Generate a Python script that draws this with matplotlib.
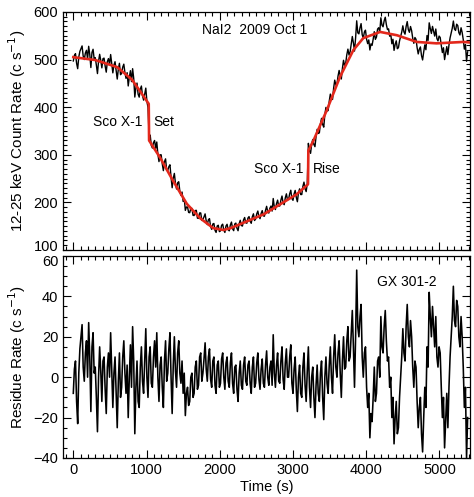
import numpy as np
import matplotlib
matplotlib.use('Agg')
import matplotlib.pyplot as plt
import matplotlib.transforms as mtransforms
from matplotlib.ticker import MultipleLocator

plt.rcParams['font.family'] = ['Liberation Sans', 'DejaVu Sans']

# background model (red curve), knots in seconds / counts per second
model_t = [0, 300, 600, 800, 950, 1030, 1035, 1185, 1360, 1550, 1730, 1910, 2050,
           2150, 2600, 3050, 3205, 3210, 3280, 3460, 3640, 3825, 3960, 4190, 4420,
           4690, 4960, 5330, 5400]
model_rate = [505, 499, 484, 458, 425, 407, 330, 294, 246, 197, 167, 146, 142,
              146, 175, 217, 238, 309, 330, 393, 463, 520, 545, 558, 551,
              537, 534, 537, 536]

# residuals sampled every 15 s from t = 0 (one row = 300 s)
step = 15
residue = [
    -8, 4, 8, -12, -23, 2, 14, 20, 26, 5, -2, 12, 18, 0, 27, 10, -17, 15, 22, 2,
    5, -10, -27, 0, 15, 3, -12, 8, 10, -6, -18, 5, 12, 0, 22, 4, -15, 2, 10, -8,
    -25, -2, 12, -10, -5, 10, 18, 2, -8, 6, -20, 0, 16, -5, 25, 8, -28, -5, 8, -12,
    -15, 5, 15, -2, -8, 8, 24, 0, -10, 10, 15, -3, -5, 10, 18, 5, 22, 0, -12, 6,
    10, -5, -15, 8, 18, -2, 2, 14, 22, 0, -18, 6, 20, 3, -5, 12, 18, 2, -3, 8,
    -8, 2, -19, -8, -5, -14, -12, 0, 2, -10, -8, 5, 8, -6, -4, 10, 12, -2, 2, 9,
    17, 4, -2, 10, 14, -1, -5, 8, 10, -4, -8, 6, 8, -5, -3, 9, 12, 0, -6, 7,
    10, -2, -5, 7, 12, -3, -8, 5, 6, -6, -12, 2, 8, -4, -6, 6, 10, -2, -4, 6,
    8, -3, -8, 5, 10, -5, -3, 7, 12, -1, -6, 4, 9, -3, -5, 6, 13, 0, -4, 5,
    8, -4, 21, 2, -5, 6, 12, -2, -3, 8, 15, -1, -6, 7, 14, 0, 0, 10, 16, -3,
    -8, 4, 10, -6, -17, 0, 6, -8, -10, 5, 12, -4, -12, 3, 15, -5, -15, 0, 5, -10,
    -20, -4, 6, -8, -12, 2, 8, -10, -21, 0, 10, -3, -8, 6, 15, 0, -8, 10, 21, 5,
    0, 12, 18, 2, -10, 8, 20, 4, 5, 18, 25, 8, 10, 22, 33, 15, -5, 20, 53, 25,
    20, 30, 36, 10, 0, 12, 15, -5, -15, -8, -30, -18, -22, -10, 5, -12, -8, 8, 10, 0,
    30, 15, 12, 25, 33, 18, 8, 10, -5, 0, -20, -10, -33, -20, -12, -28, -25, -10, 0, 10,
    24, 12, 8, 25, 36, 20, 15, 28, 20, 5, -5, 8, 5, -12, -25, -15, -10, -28, -37, -20,
    -5, -15, 15, 5, 42, 30, 20, 35, 25, 15, 30, 10, 5, 15, 12, -5, -20, -10, -35, -22,
    -8, -25, -5, 10, 20, 30, 45, 28, 25, 38, 35, 20, 15, 30, 20, 5, -15, -5, -40, -20,
]

t = np.arange(len(residue)) * step
resid = np.array(residue, dtype=float)
# observed rate = background model + residual
rate = np.interp(t, model_t, model_rate) + resid

fig = plt.figure(figsize=(4.74, 4.97), dpi=100)
ax1 = fig.add_axes([0.133, 0.497, 0.859, 0.479])
ax2 = fig.add_axes([0.133, 0.0785, 0.859, 0.4065])

ax1.plot(t, rate, color='black', lw=1.0)
ax1.plot(model_t, model_rate, color='#e3281c', lw=1.9)
ax2.plot(t, resid, color='black', lw=1.15)

for ax in (ax1, ax2):
    ax.set_xlim(-140, 5420)
    ax.xaxis.set_major_locator(MultipleLocator(1000))
    ax.xaxis.set_minor_locator(MultipleLocator(100))
    ax.tick_params(which='both', direction='in', top=True, right=True,
                   labelsize=10.5, width=0.8)
    ax.tick_params(which='major', length=6)
    ax.tick_params(which='minor', length=3)
    for s in ax.spines.values():
        s.set_linewidth(0.9)

ax1.set_ylim(100, 600)
ax1.set_yticks([100, 200, 300, 400, 500, 600])
ax1.yaxis.set_minor_locator(MultipleLocator(10))
ax1.tick_params(labelbottom=False)
ax1.set_ylabel('12-25 keV Count Rate (c s$^{-1}$)', fontsize=11, labelpad=4)

ax2.set_ylim(-40, 60)
ax2.set_yticks([-40, -20, 0, 20, 40, 60])
ax2.yaxis.set_minor_locator(MultipleLocator(5))
ax2.set_ylabel('Residue Rate (c s$^{-1}$)', fontsize=11, labelpad=4)
ax2.set_xlabel('Time (s)', fontsize=10.5, labelpad=2)

# nudge the "100" and "60" labels apart where the panels meet
up = mtransforms.ScaledTranslation(0, 3 / 72, fig.dpi_scale_trans)
down = mtransforms.ScaledTranslation(0, -3 / 72, fig.dpi_scale_trans)
lab100 = ax1.get_yticklabels()[0]
lab100.set_transform(lab100.get_transform() + up)
lab60 = ax2.get_yticklabels()[-1]
lab60.set_transform(lab60.get_transform() + down)

ax1.text(2470, 562, 'NaI2  2009 Oct 1', fontsize=10, ha='center', va='center')
ax1.text(950, 368, 'Sco X-1', fontsize=10, ha='right', va='center')
ax1.text(1090, 368, 'Set', fontsize=10, ha='left', va='center')
ax1.text(3140, 270, 'Sco X-1', fontsize=10, ha='right', va='center')
ax1.text(3270, 270, 'Rise', fontsize=10, ha='left', va='center')
ax2.text(4555, 47, 'GX 301-2', fontsize=10, ha='center', va='center')

fig.savefig('out.png', dpi=100)
